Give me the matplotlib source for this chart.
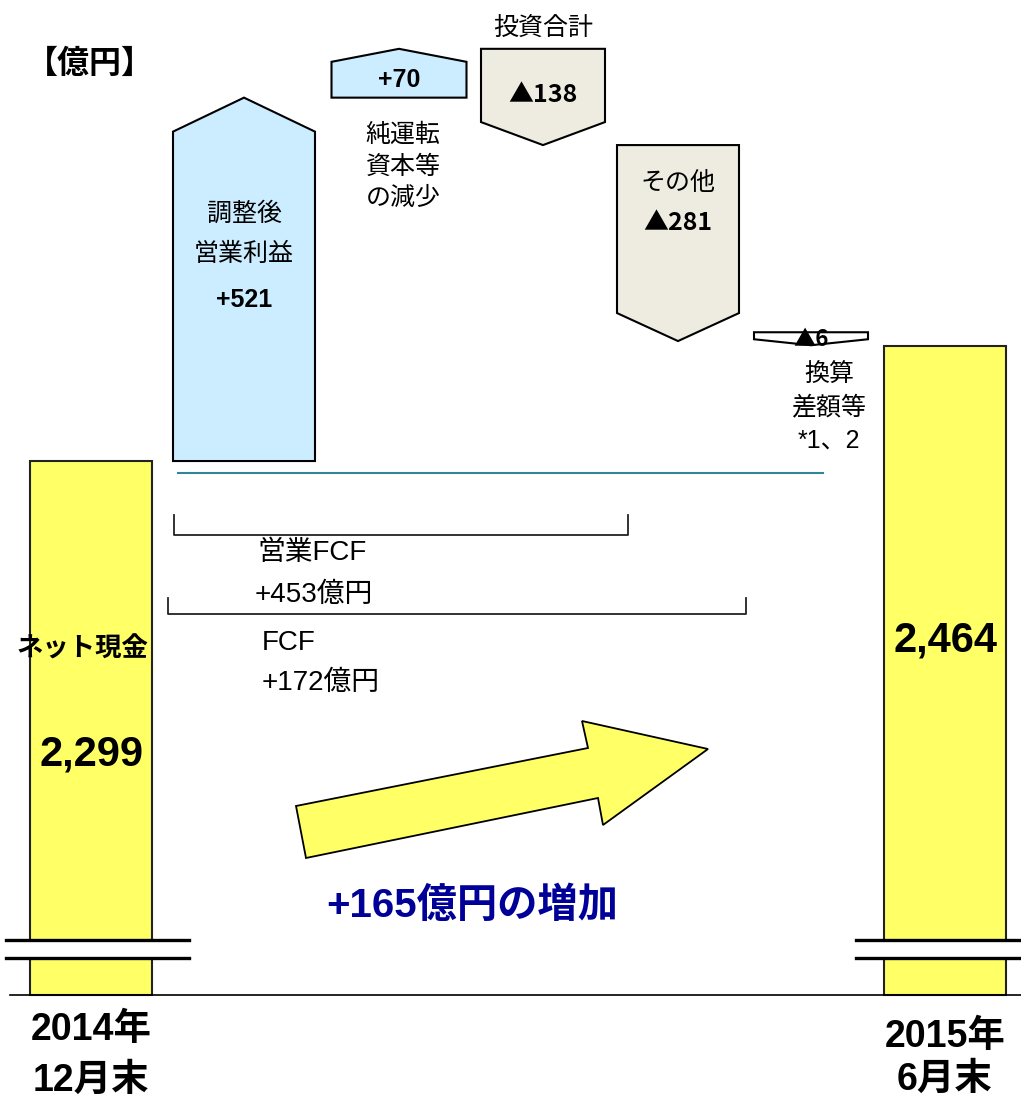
import matplotlib
matplotlib.use("Agg")
import matplotlib.pyplot as plt
from matplotlib.patches import Polygon, Rectangle
from matplotlib.transforms import offset_copy

plt.rcParams['font.family'] = ['Liberation Sans', 'Noto Sans CJK JP', 'DejaVu Sans']
CJK_FIRST = ['Noto Sans CJK JP', 'DejaVu Sans']

# --- data (億円) ---
cash_start = 2299
cash_end = 2464
start_label = ["2014年", "12月末"]
end_label = ["2015年", "6月末"]
step_values = [521, 70, -138, -281, -6]
step_names = [["調整後", "営業利益"],
              ["純運転", "資本等", "の減少"],
              ["投資合計"],
              ["その他"],
              ["換算", "差額等", "*1、2"]]
op_fcf = 453
fcf = 172
increase = 165

# --- layout ---
W, H = 1021, 1102
y_lo, y_hi = 1380, 2960          # broken value axis, only the top part shown
base = y_hi - 995 * (y_hi - y_lo) / H
x_start, x_end, bar_w = 91, 945, 122
step_x = [244, 399, 543, 678, 811]
step_w = [142, 135, 124, 122, 114]
head_px = [34, 13, 23, 28, 6]
min_px = [0, 0, 0, 0, 13]
step_colors = ['#CCECFF', '#CCECFF', '#EEECE1', '#EEECE1', 'white']
yellow = '#FFFF66'


def fmt(v):
    return '+%d' % v if v > 0 else '▲%d' % -v


def fam(v):
    return plt.rcParams['font.family'] if v > 0 else CJK_FIRST


fig = plt.figure(figsize=(W / 100, H / 100), dpi=100)
ax = fig.add_axes([0, 0, 1, 1])
ax.set_xlim(0, W)
ax.set_ylim(y_lo, y_hi)
ax.axis('off')
px = H / (y_hi - y_lo)   # pixels per 億円


def shifted(dy):
    return offset_copy(ax.transData, fig=fig, x=0, y=dy, units='dots')


# end bars
ax.bar([x_start, x_end], [cash_start - base, cash_end - base], bottom=base,
       width=bar_w, color=yellow, edgecolor='#222222', linewidth=1.5, zorder=2)
ax.plot([10, W], [base, base], color='black', lw=1.2, zorder=3)

# reference line at start level
ax.plot([178, 823], [cash_start, cash_start], color='#31849B', lw=1.5,
        transform=shifted(-12))

# waterfall steps
level = cash_start
ends = []
for i, v in enumerate(step_values):
    s, e = level, level + v
    sign = 1 if v > 0 else -1
    if abs(v) * px < min_px[i]:
        s = e - sign * min_px[i] / px
    h = head_px[i] / px
    xc, w = step_x[i], step_w[i]
    xl, xr = xc - w / 2, xc + w / 2
    pts = [(xl, s), (xr, s), (xr, e - sign * h), (xc, e), (xl, e - sign * h)]
    ax.add_patch(Polygon(pts, closed=True, fc=step_colors[i], ec='black', lw=1.5, zorder=2))
    ends.append((s, e))
    level = e

name_kw = dict(ha='center', va='center', fontsize=18, zorder=5)
val_kw = dict(ha='center', va='center', fontsize=18, fontweight='bold', zorder=5)

# +521
s, e = ends[0]
for name, dy in zip(step_names[0], [-116, -156]):
    ax.text(step_x[0], e, name, transform=shifted(dy), **name_kw)
ax.text(step_x[0], e, fmt(step_values[0]), transform=shifted(-202),
        family=fam(step_values[0]), **val_kw)
# +70
s, e = ends[1]
ax.text(step_x[1], e, fmt(step_values[1]), transform=shifted(-31),
        family=fam(step_values[1]), **val_kw)
for name, dy in zip(step_names[1], [-37, -69, -100]):
    ax.text(step_x[1] + 4, s, name, transform=shifted(dy), **name_kw)
# ▲138
s, e = ends[2]
ax.text(step_x[2], s, step_names[2][0], transform=shifted(21), **name_kw)
ax.text(step_x[2], s, fmt(step_values[2]), transform=shifted(-46),
        family=fam(step_values[2]), **val_kw)
# ▲281
s, e = ends[3]
ax.text(step_x[3], s, step_names[3][0], transform=shifted(-38), **name_kw)
ax.text(step_x[3], s, fmt(step_values[3]), transform=shifted(-78),
        family=fam(step_values[3]), **val_kw)
# ▲6
s, e = ends[4]
ax.text(step_x[4], e, fmt(step_values[4]), transform=shifted(6), family=fam(step_values[4]),
        ha='center', va='center', fontsize=16, fontweight='bold', zorder=5)
for name, dy in zip(step_names[4], [-30, -62, -95]):
    ax.text(step_x[4] + 18, e, name, transform=shifted(dy), **name_kw)

# --- overlay in pixel units for annotations ---
ov = fig.add_axes([0, 0, 1, 1])
ov.set_xlim(0, W)
ov.set_ylim(H, 0)
ov.axis('off')
ov.patch.set_alpha(0)

# axis break marks
for x0, x1 in [(6, 189), (856, W)]:
    ov.add_patch(Rectangle((x0, 941), x1 - x0, 16, fc='white', ec='none'))
    ov.plot([x0, x1], [940, 940], color='black', lw=2.4)
    ov.plot([x0, x1], [958, 958], color='black', lw=2.4)

# brackets
ov.plot([174, 174, 628, 628], [515, 535, 535, 515], color='#222222', lw=1.3)
ov.plot([168, 168, 746, 746], [598, 614, 614, 598], color='#222222', lw=1.3)
ov.text(257, 553, "営業FCF", ha='left', va='center', fontsize=20)
ov.text(255, 595, "+%d億円" % op_fcf, ha='left', va='center', fontsize=20)
ov.text(262, 643, "FCF", ha='left', va='center', fontsize=20)
ov.text(262, 683, "+%d億円" % fcf, ha='left', va='center', fontsize=20)

# big increase arrow
arrow = [(296, 806), (588, 748), (582, 721), (708, 749), (603, 825), (598, 798), (306, 858)]
ov.add_patch(Polygon(arrow, closed=True, fc=yellow, ec='black', lw=1.3))
ov.text(472, 906, "+%d億円の増加" % increase, ha='center', va='center',
        fontsize=29, fontweight='bold', color='#000099')

# unit and bar labels
ov.text(90, 64, "【億円】", ha='center', va='center', fontsize=23, fontweight='bold',
        family=CJK_FIRST)
ov.text(82, 649, "ネット現金", ha='center', va='center', fontsize=19, fontweight='bold')
ov.text(x_start, 755, "{:,}".format(cash_start), ha='center', va='center',
        fontsize=30, fontweight='bold')
ov.text(x_end, 640, "{:,}".format(cash_end), ha='center', va='center',
        fontsize=30, fontweight='bold')
for txt, y in zip(start_label, [1030, 1081]):
    ov.text(x_start, y, txt, ha='center', va='center', fontsize=27, fontweight='bold')
for txt, y in zip(end_label, [1037, 1080]):
    ov.text(x_end, y, txt, ha='center', va='center', fontsize=27, fontweight='bold')

plt.savefig('out.png', dpi=100)
